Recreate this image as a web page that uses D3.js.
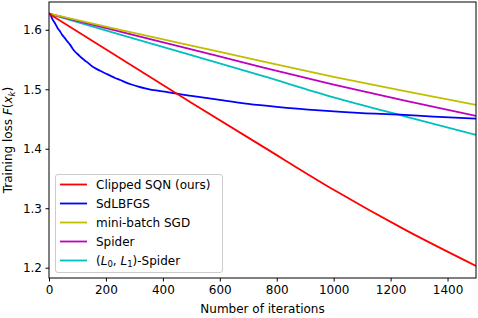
<!doctype html>
<html lang="en">
  <head>
    <meta charset="utf-8">
    <title>Training loss</title>
    <script src="https://d3js.org/d3.v7.min.js"></script>
    <style>
    body { margin: 0; background: #fff; }
    text { font-family: "DejaVu Sans", sans-serif; fill: #000; }
    .tick line { stroke: #000; }
    .domain { stroke: #000; }
    </style>
  </head>

  <body>
    <svg width="478" height="318"></svg>

    <script>
      // values
      var names = ['Clipped SQN (ours)', 'SdLBFGS', 'mini-batch SGD', 'Spider', '(L0,L1)-Spider'];
      var colors = ['#ff0000', '#0000ff', '#bfbf00', '#bf00bf', '#00bfbf'];

      var redX = [0, 250, 500, 750, 1000, 1250, 1500];
      var redY = [1.627, 1.552, 1.4775, 1.404, 1.331, 1.264, 1.203];

      var blueX = [0, 4, 12, 21, 30, 39, 47, 56, 65, 74, 82, 91, 103, 115, 127, 138, 150, 162, 180, 197, 215, 232, 250, 267, 290, 314, 338, 361, 385, 407, 443, 500, 600, 700, 800, 950, 1100, 1233, 1350, 1500];
      var blueY = [1.627, 1.626, 1.618, 1.611, 1.603, 1.597, 1.591, 1.586, 1.580, 1.575, 1.569, 1.5635, 1.558, 1.5525, 1.548, 1.544, 1.539, 1.5355, 1.531, 1.527, 1.523, 1.519, 1.5155, 1.512, 1.508, 1.5045, 1.5015, 1.499, 1.4975, 1.496, 1.493, 1.489, 1.482, 1.4755, 1.4705, 1.4645, 1.460, 1.4574, 1.454, 1.4507];

      var yellowX = [0, 250, 500, 750, 1000, 1250, 1500];
      var yellowY = [1.627, 1.600, 1.5735, 1.547, 1.521, 1.497, 1.4737];

      var magentaX = [0, 250, 500, 750, 1000, 1250, 1500];
      var magentaY = [1.627, 1.597, 1.567, 1.537, 1.508, 1.481, 1.4552];

      var cyanX = [0, 250, 500, 750, 1000, 1250, 1500];
      var cyanY = [1.627, 1.592, 1.5575, 1.5225, 1.4865, 1.4545, 1.4232];

      var xTicks = [0, 200, 400, 600, 800, 1000, 1200, 1400];
      var yTicks = [1.2, 1.3, 1.4, 1.5, 1.6];

      var series = [[redX, redY], [blueX, blueY], [yellowX, yellowY], [magentaX, magentaY], [cyanX, cyanY]];

      var svg = d3.select('svg');
      var pLeft = 49, pRight = 476, pTop = 2, pBottom = 278;

      var x = d3.scaleLinear().domain([0, 1500]).range([pLeft, pRight]);
      var y = d3.scaleLinear().domain([1.1827, 1.6467]).range([pBottom, pTop]);

      var line = d3.line()
        .curve(d3.curveMonotoneX)
        .x(function(d){ return x(d[0]); })
        .y(function(d){ return y(d[1]); });

      // clip to the plot area
      svg.append('clipPath').attr('id', 'clip')
        .append('rect')
          .attr('x', pLeft).attr('y', pTop)
          .attr('width', pRight - pLeft).attr('height', pBottom - pTop);

      var plot = svg.append('g').attr('clip-path', 'url(#clip)');

      // draw in reverse order so red is on top
      series.slice().reverse().forEach(function(s, i){
        var idx = series.length - 1 - i;
        var pts = s[0].map(function(v, j){ return [v, s[1][j]]; });
        plot.append('path')
          .datum(pts)
          .attr('fill', 'none')
          .attr('stroke', colors[idx])
          .attr('stroke-width', 1.8)
          .attr('stroke-linejoin', 'round')
          .attr('d', line);
      });

      // axes
      var bottomAxis = d3.axisBottom(x).tickValues(xTicks).tickSize(3.5).tickPadding(3.5)
        .tickFormat(d3.format('d'));
      var leftAxis = d3.axisLeft(y).tickValues(yTicks).tickSize(3.5).tickPadding(3.5)
        .tickFormat(d3.format('.1f'));

      var gx = svg.append('g')
        .attr('transform', 'translate(0,' + pBottom + ')')
        .call(bottomAxis);
      var gy = svg.append('g')
        .attr('transform', 'translate(' + pLeft + ',0)')
        .call(leftAxis);

      [gx, gy].forEach(function(g){
        g.selectAll('text').style('font-size', '12px').style('font-family', '"DejaVu Sans", sans-serif');
        g.select('.domain').remove();
      });

      // frame
      svg.append('rect')
        .attr('x', pLeft).attr('y', pTop)
        .attr('width', pRight - pLeft).attr('height', pBottom - pTop)
        .attr('fill', 'none')
        .attr('stroke', '#000')
        .attr('stroke-width', 1);

      // axis labels
      svg.append('text')
        .attr('x', (pLeft + pRight) / 2)
        .attr('y', 313)
        .attr('text-anchor', 'middle')
        .style('font-size', '12px')
        .text('Number of iterations');

      var yl = svg.append('text')
        .attr('transform', 'translate(12,' + ((pTop + pBottom) / 2) + ') rotate(-90)')
        .attr('text-anchor', 'middle')
        .style('font-size', '12px');
      yl.append('tspan').text('Training loss ');
      yl.append('tspan').style('font-style', 'italic').text('F');
      yl.append('tspan').text('(');
      yl.append('tspan').style('font-style', 'italic').text('x');
      yl.append('tspan').style('font-style', 'italic').style('font-size', '8.5px').attr('dy', 2.5).text('k');
      yl.append('tspan').attr('dy', -2.5).text(')');

      // legend
      var legend = svg.append('g');
      legend.append('rect')
        .attr('x', 55.5).attr('y', 174.5)
        .attr('width', 167).attr('height', 98)
        .attr('rx', 2.5)
        .attr('fill', '#fff')
        .attr('fill-opacity', 0.8)
        .attr('stroke', '#ccc');

      names.forEach(function(n, i){
        var ly = 184.5 + i * 19;
        legend.append('line')
          .attr('x1', 60).attr('x2', 87)
          .attr('y1', ly).attr('y2', ly)
          .attr('stroke', colors[i])
          .attr('stroke-width', 1.8);
        var t = legend.append('text')
          .attr('x', 96).attr('y', ly + 4.3)
          .style('font-size', '12px');
        if (i === 4) {
          t.append('tspan').text('(');
          t.append('tspan').style('font-style', 'italic').text('L');
          t.append('tspan').style('font-size', '8.5px').attr('dy', 2.5).text('0');
          t.append('tspan').attr('dy', -2.5).text(', ');
          t.append('tspan').style('font-style', 'italic').text('L');
          t.append('tspan').style('font-size', '8.5px').attr('dy', 2.5).text('1');
          t.append('tspan').attr('dy', -2.5).text(')-Spider');
        } else {
          t.text(n);
        }
      });
    </script>
  </body>
</html>
